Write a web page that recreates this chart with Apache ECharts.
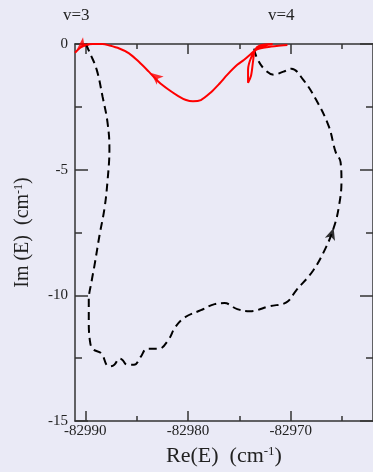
<!DOCTYPE html>
<html>
<head>
<meta charset="utf-8">
<script src="https://cdn.jsdelivr.net/npm/echarts@6/dist/echarts.min.js"></script>
<style>
  html, body { margin: 0; padding: 0; background: #eaeaf6; }
  #chart { width: 373px; height: 472px; }
</style>
</head>
<body>
<div id="chart"></div>
<script>
// red (solid) trajectory, Re(E) / Im(E) in cm-1
var redRe = [-82970.33, -82971.38, -82972.53, -82973.39, -82973.87, -82974.16, -82974.16, -82973.87,
  -82973.68, -82973.49, -82973.01, -82971.77, -82972.34, -82973.11, -82973.58, -82973.97,
  -82974.54, -82975.21, -82976.17, -82976.93, -82977.79, -82978.75, -82979.52, -82980.19,
  -82980.95, -82981.91, -82982.87, -82983.82, -82984.78, -82985.74, -82986.69, -82987.65,
  -82988.32, -82989.28, -82990.04, -82990.52, -82991.0];
var redIm = [-0.04, -0.08, -0.14, -0.24, -0.55, -1.02, -1.54, -1.26,
  -0.71, -0.24, -0.06, 0, -0.04, -0.16, -0.28, -0.43,
  -0.63, -0.83, -1.22, -1.57, -1.93, -2.23, -2.28, -2.23,
  -2.07, -1.81, -1.50, -1.10, -0.71, -0.37, -0.18, -0.06,
  0, 0, -0.04, -0.16, -0.35];

// black (dashed) trajectory
var blackRe = [-82989.95, -82989.56, -82988.89, -82988.32, -82987.84, -82987.65, -82987.84, -82988.13,
  -82988.61, -82989.09, -82989.37, -82989.66, -82989.66, -82989.56, -82989.28, -82988.42,
  -82987.94, -82987.65, -82987.17, -82986.69, -82986.41, -82985.93, -82985.26, -82984.59,
  -82984.01, -82982.87, -82981.91, -82981.24, -82980.28, -82978.75, -82977.41, -82976.45,
  -82975.21, -82973.97, -82972.05, -82970.43, -82969.47, -82967.84, -82966.60, -82965.83,
  -82965.35, -82965.07, -82965.16, -82965.64, -82966.31, -82967.56, -82968.80, -82969.95,
  -82970.71, -82971.67, -82972.53, -82973.30, -82973.58];
var blackIm = [0, -0.35, -1.02, -2.09, -3.11, -4.17, -5.47, -6.54,
  -7.60, -8.78, -9.41, -10.20, -10.98, -11.77, -12.13, -12.32,
  -12.76, -12.83, -12.76, -12.52, -12.56, -12.76, -12.76, -12.44,
  -12.13, -12.13, -11.77, -11.26, -10.87, -10.59, -10.35, -10.31,
  -10.55, -10.63, -10.43, -10.28, -9.80, -9.02, -8.11, -7.32,
  -6.54, -5.47, -4.69, -4.29, -3.27, -2.20, -1.42, -0.98,
  -1.10, -1.22, -1.02, -0.55, -0.16];

// arrow heads: [Re, Im, direction in degrees]
var redArrows = [[-82983.6, -1.15, 50], [-82990.8, -0.2, 129]];
var blackArrows = [[-82965.83, -7.32, -18]];

var majorRe = [-82990, -82980, -82970];
var minorRe = [-82985, -82975, -82965];

var reMin = -82991, reMax = -82962;
var imMin = -15, imMax = 0;

function zip(a, b) {
  return a.map(function (v, i) { return [v, b[i]]; });
}

var serif = 'Liberation Serif, DejaVu Serif, serif';
var axisColor = '#333';

function xAxisDef(pos, vals, len, showLine, showLabels) {
  return {
    type: 'value',
    position: pos,
    min: reMin,
    max: reMax,
    axisLine: { show: showLine, onZero: false, lineStyle: { color: axisColor, width: 1.5 } },
    axisTick: { show: true, inside: true, length: len, customValues: vals,
      lineStyle: { color: axisColor, width: 1.5 } },
    axisLabel: { show: showLabels, customValues: vals, margin: 3,
      formatter: function (v) { return String(v); },
      color: '#222', fontFamily: serif, fontSize: 15 },
    splitLine: { show: false }
  };
}

var xAxes = [
  xAxisDef('bottom', majorRe, 10, true, true),
  xAxisDef('bottom', minorRe, 5, false, false),
  xAxisDef('top', majorRe, 10, true, false),
  xAxisDef('top', minorRe, 5, false, false)
];
xAxes[0].name = '{a|Re(E)  (cm}{s|-1}{a|)}';
xAxes[0].nameLocation = 'middle';
xAxes[0].nameGap = 24;
xAxes[0].nameTextStyle = {
  rich: {
    a: { fontFamily: serif, fontSize: 22, color: '#222' },
    s: { fontFamily: serif, fontSize: 13, color: '#222', verticalAlign: 'top' }
  }
};

function yAxisDef(pos, showLabels) {
  return {
    type: 'value',
    position: pos,
    min: imMin,
    max: imMax,
    interval: 5,
    axisLine: { show: true, onZero: false, lineStyle: { color: axisColor, width: 1.5 } },
    axisTick: { show: true, inside: true, length: 13, lineStyle: { color: axisColor, width: 1.5 } },
    minorTick: { show: true, splitNumber: 2, length: 7, lineStyle: { color: axisColor, width: 1.5 } },
    axisLabel: { show: showLabels, margin: 7, color: '#222', fontFamily: serif, fontSize: 15 },
    splitLine: { show: false }
  };
}

var yAxes = [yAxisDef('left', true), yAxisDef('right', false)];
yAxes[0].name = '{a|Im (E)  (cm}{s|-1}{a|)}';
yAxes[0].nameLocation = 'middle';
yAxes[0].nameGap = 42;
yAxes[0].nameTextStyle = {
  rich: {
    a: { fontFamily: serif, fontSize: 20, color: '#222' },
    s: { fontFamily: serif, fontSize: 12, color: '#222', verticalAlign: 'top' }
  }
};

function arrowSeries(list, color) {
  return {
    type: 'scatter',
    symbol: 'arrow',
    symbolSize: [8, 12],
    itemStyle: { color: color },
    silent: true,
    data: list.map(function (a) {
      return { value: [a[0], a[1]], symbolRotate: a[2] };
    })
  };
}

var chart = echarts.init(document.getElementById('chart'));
chart.setOption({
  backgroundColor: '#eaeaf6',
  animation: false,
  grid: { left: 75, top: 44, width: 303, height: 381 },
  xAxis: xAxes,
  yAxis: yAxes,
  graphic: [
    { type: 'text', left: 63, top: 7, style: { text: 'v=3', fontFamily: serif, fontSize: 17, fill: '#222' } },
    { type: 'text', left: 268, top: 7, style: { text: 'v=4', fontFamily: serif, fontSize: 17, fill: '#222' } }
  ],
  series: [
    {
      type: 'line',
      data: zip(blackRe, blackIm),
      smooth: 0.4,
      showSymbol: false,
      lineStyle: { color: '#000', width: 2, type: [8, 5] }
    },
    {
      type: 'line',
      data: zip(redRe, redIm),
      smooth: 0.3,
      showSymbol: false,
      lineStyle: { color: '#ff0000', width: 2 }
    },
    arrowSeries(redArrows, '#ff0000'),
    arrowSeries(blackArrows, '#000')
  ]
});
</script>
</body>
</html>
